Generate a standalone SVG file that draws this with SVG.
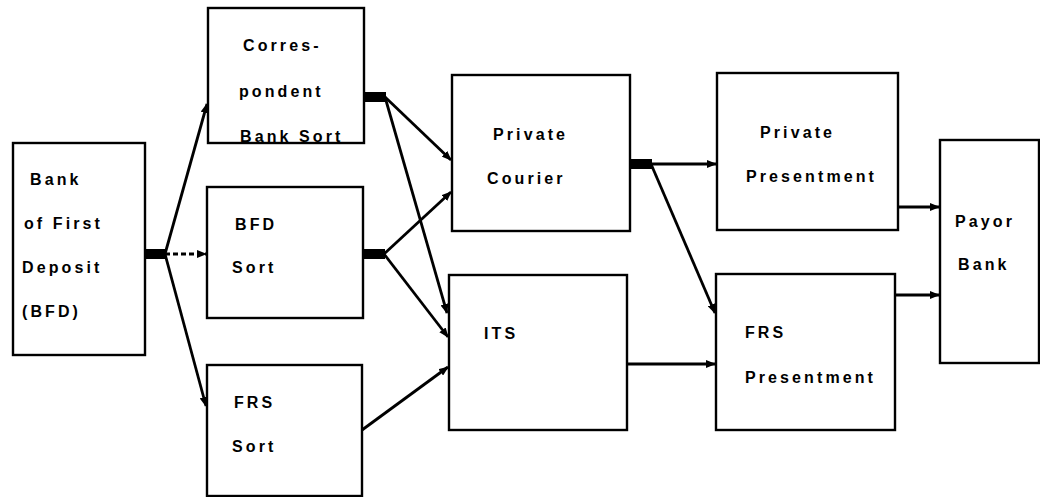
<svg xmlns="http://www.w3.org/2000/svg" width="1040" height="497" viewBox="0 0 1040 497">
<style>
.box{fill:#fff;stroke:#000;stroke-width:2.4}
.t{font-family:"Liberation Sans",Arial,sans-serif;font-weight:bold;font-size:16px;letter-spacing:3.1px;fill:#000}
.c{fill:none;stroke:#000;stroke-width:2.8}
.stub{fill:#000}
</style>
<defs>
<marker id="ah" markerUnits="userSpaceOnUse" markerWidth="10" markerHeight="8" refX="9" refY="4" orient="auto">
<path d="M0,0 L10,4 L0,8 Z" fill="#000"/>
</marker>
</defs>
<rect width="1040" height="497" fill="#fff"/>
<g id="bfd">
<rect class="box" x="13" y="143" width="132" height="212"/>
<text class="t" x="30" y="185">Bank</text>
<text class="t" x="24" y="229">of First</text>
<text class="t" x="22" y="273">Deposit</text>
<text class="t" x="22" y="317">(BFD)</text>
</g>
<g id="corr">
<rect class="box" x="208" y="8" width="156" height="135"/>
<text class="t" x="243" y="51">Corres-</text>
<text class="t" x="239" y="97">pondent</text>
<text class="t" x="240" y="142">Bank Sort</text>
</g>
<g id="bfdsort">
<rect class="box" x="207" y="187" width="156" height="131"/>
<text class="t" x="235" y="230">BFD</text>
<text class="t" x="232" y="273">Sort</text>
</g>
<g id="frssort">
<rect class="box" x="207" y="365" width="155" height="131"/>
<text class="t" x="234" y="408">FRS</text>
<text class="t" x="232" y="452">Sort</text>
</g>
<g id="courier">
<rect class="box" x="452" y="75" width="178" height="156"/>
<text class="t" x="493" y="140">Private</text>
<text class="t" x="487" y="184">Courier</text>
</g>
<g id="its">
<rect class="box" x="449" y="275" width="178" height="155"/>
<text class="t" x="484" y="339">ITS</text>
</g>
<g id="privpres">
<rect class="box" x="717" y="73" width="181" height="157"/>
<text class="t" x="760" y="138">Private</text>
<text class="t" x="746" y="182">Presentment</text>
</g>
<g id="frspres">
<rect class="box" x="716" y="274" width="179" height="156"/>
<text class="t" x="745" y="338">FRS</text>
<text class="t" x="745" y="383">Presentment</text>
</g>
<g id="payor">
<rect class="box" x="940" y="140" width="99" height="223"/>
<text class="t" x="955" y="227">Payor</text>
<text class="t" x="958" y="270">Bank</text>
</g>
<g id="connectors">
<rect class="stub" x="145" y="249" width="21" height="10"/>
<rect class="stub" x="364" y="92" width="22" height="10"/>
<rect class="stub" x="363" y="249" width="22" height="10"/>
<rect class="stub" x="630" y="159" width="22" height="10"/>
<line class="c" x1="165" y1="254" x2="207" y2="104" marker-end="url(#ah)"/>
<line class="c" x1="165" y1="254" x2="206" y2="254" stroke-dasharray="5,3" marker-end="url(#ah)"/>
<line class="c" x1="165" y1="254" x2="206" y2="406" marker-end="url(#ah)"/>
<line class="c" x1="385" y1="97" x2="451" y2="160" marker-end="url(#ah)"/>
<line class="c" x1="385" y1="97" x2="447" y2="313" stroke-width="3.6" marker-end="url(#ah)"/>
<line class="c" x1="384" y1="254" x2="451" y2="192" marker-end="url(#ah)"/>
<line class="c" x1="384" y1="254" x2="448" y2="337" marker-end="url(#ah)"/>
<line class="c" x1="362" y1="430" x2="448" y2="367" marker-end="url(#ah)"/>
<line class="c" x1="651" y1="164" x2="716" y2="164" marker-end="url(#ah)"/>
<line class="c" x1="651" y1="164" x2="715" y2="313" marker-end="url(#ah)"/>
<line class="c" x1="627" y1="364" x2="715" y2="364" marker-end="url(#ah)"/>
<line class="c" x1="898" y1="207" x2="939" y2="207" marker-end="url(#ah)"/>
<line class="c" x1="895" y1="295" x2="939" y2="295" marker-end="url(#ah)"/>
</g>
</svg>
